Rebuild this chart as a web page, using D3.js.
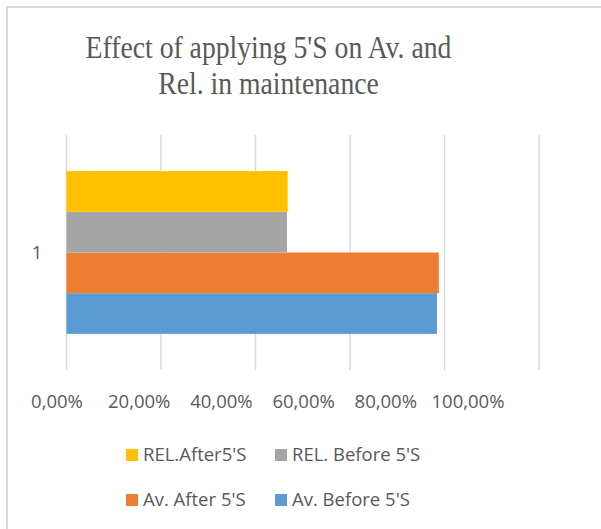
<!DOCTYPE html>
<html>
<head>
<meta charset="utf-8">
<style>
    body { margin: 0; background: #fff; }
    svg { display: block; }
</style>
</head>
<body>
<svg width="601" height="529"></svg>

<script src="https://d3js.org/d3.v7.min.js"></script>
<script>
    // values
    let category = ["1"]
    let seriesNames = ["Av. Before 5'S", "Av. After 5'S", "REL. Before 5'S", "REL.After5'S"]
    let seriesValues = [0.784, 0.788, 0.4667, 0.4682]
    let seriesColors = ["#5B9BD5", "#ED7D31", "#A5A5A5", "#FFC000"]
    let tickValues = [0, 0.2, 0.4, 0.6, 0.8, 1.0]
    let tickLabels = ["0,00%", "20,00%", "40,00%", "60,00%", "80,00%", "100,00%"]
    let titleLines = ["Effect of applying 5'S on Av. and", "Rel. in maintenance"]

    let svg = d3.select("svg")
    let grey = "#595959"

    // chart frame (right and bottom edges run off the picture)
    svg.append("rect")
        .attr("x", 7).attr("y", 7)
        .attr("width", 700).attr("height", 700)
        .style("fill", "none")
        .style("stroke", "#d9d9d9")
        .style("stroke-width", 2)

    // title - the source is a bit taller than wide, so stretch it a little
    let titleY = [58.3, 93.5]
    svg.selectAll(".title")
        .data(titleLines)
        .join("text")
        .attr("class", "title")
        .attr("transform", (d, i) => `translate(268.5,${titleY[i]}) scale(1,1.12)`)
        .attr("text-anchor", "middle")
        .style("font-family", "'Liberation Serif', 'Times New Roman', serif")
        .style("font-size", "27.7px")
        .style("fill", grey)
        .text(d => d)

    let plotTop = 135, plotBottom = 370
    let x = d3.scaleLinear().domain([0, 1]).range([66.5, 539])

    // gridlines
    svg.selectAll(".grid")
        .data(tickValues)
        .join("line")
        .attr("class", "grid")
        .attr("x1", d => x(d)).attr("x2", d => x(d))
        .attr("y1", plotTop).attr("y2", plotBottom)
        .style("stroke", "#d9d9d9")
        .style("stroke-width", 1.5)

    // category band, bars stacked bottom-up in series order
    let yCat = d3.scaleBand().domain(category).range([plotTop, plotBottom]).paddingInner(0).paddingOuter(0.222)
    let ySeries = d3.scaleBand()
        .domain(seriesNames.slice().reverse())
        .range([0, yCat.bandwidth()])

    svg.selectAll(".bar")
        .data(seriesNames.map((s, i) => ({ name: s, value: seriesValues[i], color: seriesColors[i] })))
        .join("rect")
        .attr("class", "bar")
        .attr("x", x(0))
        .attr("y", d => yCat("1") + ySeries(d.name))
        .attr("width", d => x(d.value) - x(0))
        .attr("height", ySeries.bandwidth())
        .style("fill", d => d.color)

    // category label
    svg.append("text")
        .attr("x", 37)
        .attr("y", yCat("1") + yCat.bandwidth() / 2)
        .attr("dy", "0.35em")
        .attr("text-anchor", "middle")
        .style("font-family", "'Open Sans', sans-serif")
        .style("font-size", "18.5px")
        .style("fill", grey)
        .text(category[0])

    // tick labels (Excel squeezed them, so they sit on their own even spacing)
    let xLab = d3.scalePoint().domain(tickLabels).range([57, 468])
    svg.selectAll(".tick-label")
        .data(tickLabels)
        .join("text")
        .attr("class", "tick-label")
        .attr("x", d => xLab(d))
        .attr("y", 401.7)
        .attr("dy", "0.35em")
        .attr("text-anchor", "middle")
        .style("font-family", "'Open Sans', sans-serif")
        .style("font-size", "18.5px")
        .style("fill", grey)
        .text(d => d)

    // legend, two rows, reversed series order
    let legendOrder = [3, 2, 1, 0]
    let legendX = [126, 275]
    let legendY = [455, 500]
    let legend = svg.selectAll(".legend")
        .data(legendOrder)
        .join("g")
        .attr("class", "legend")
        .attr("transform", (d, i) => `translate(${legendX[i % 2]},${legendY[Math.floor(i / 2)]})`)

    legend.append("rect")
        .attr("x", 0).attr("y", -6)
        .attr("width", 12).attr("height", 12)
        .style("fill", d => seriesColors[d])

    legend.append("text")
        .attr("x", 17)
        .attr("dy", "0.35em")
        .style("font-family", "'Open Sans', sans-serif")
        .style("font-size", "18.5px")
        .style("fill", grey)
        .text(d => seriesNames[d])
</script>
</body>
</html>
